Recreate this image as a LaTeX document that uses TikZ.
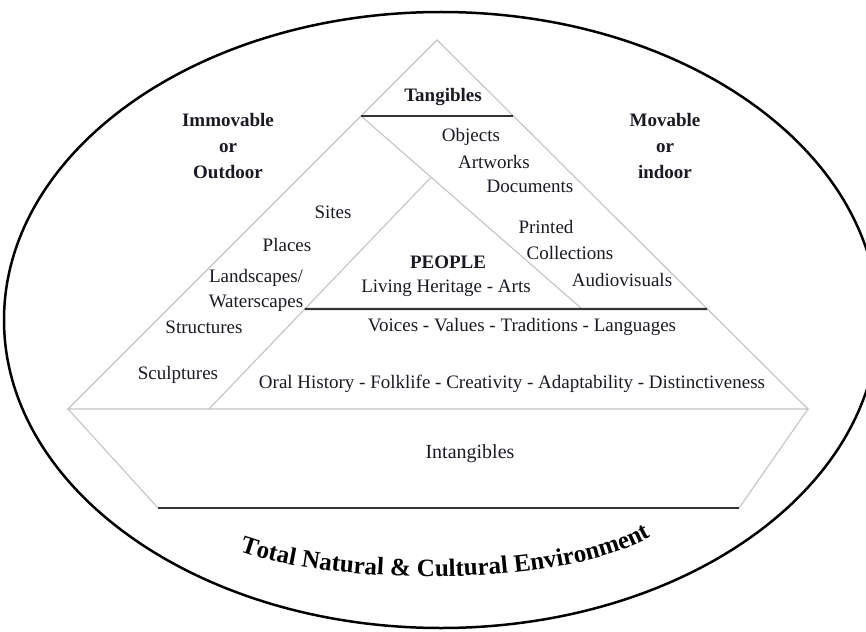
\documentclass[tikz,border=0pt]{standalone}
\usepackage{fontspec}
\setmainfont{Liberation Serif}
\usetikzlibrary{decorations.text,calc}
\definecolor{edgegray}{HTML}{C4C4C4}
\definecolor{thickline}{HTML}{333333}
\definecolor{ink}{HTML}{1A1A24}
\begin{document}
\begin{tikzpicture}[x=1pt,y=-1pt,
  thinedge/.style={draw=edgegray, line width=1.1pt},
  boldedge/.style={draw=thickline, line width=2.2pt},
  lbl/.style={font=\fontsize{19}{24}\selectfont, text=ink, inner sep=0pt, align=center},
  blbl/.style={lbl, font=\fontsize{19}{26}\selectfont\bfseries}]
\useasboundingbox (0,0) rectangle (866,631);
\fill[white] (0,0) rectangle (866,631);
% surrounding ellipse
\draw[line width=2.5pt] (441,320) ellipse [x radius=437, y radius=308];
% pyramid geometry
\coordinate (apex) at (437,40);
\coordinate (bl) at (68,409);
\coordinate (br) at (808,409);
\coordinate (tl) at (361,116);
\coordinate (tr) at (513,116);
\coordinate (d1b) at (582,309);
\coordinate (pa) at ($(tl)!0.317!(d1b)$);
\coordinate (d2b) at (209,409);
\coordinate (ml) at ($(pa)!0.569!(d2b)$);
\coordinate (mr) at (707,309);
\coordinate (zl) at (158,508);
\coordinate (zr) at (739,508);
\draw[thinedge] (bl) -- (apex) -- (br) -- cycle;
\draw[thinedge] (bl) -- (zl);
\draw[thinedge] (br) -- (zr);
\draw[thinedge] (tl) -- (d1b);
\draw[thinedge] (pa) -- (d2b);
\draw[boldedge] (tl) -- (tr);
\draw[boldedge] (ml) -- (mr);
\draw[boldedge] (zl) -- (zr);
% labels
\node[blbl] (tang) at (443,97) {Tangibles};
\node[blbl] (immov) at (228,146) {Immovable\\or\\Outdoor};
\node[blbl] (mov) at (665,146) {Movable\\or\\indoor};
\node[lbl] (obj) at (471,137) {Objects};
\node[lbl] (art) at (494,162) {Artworks};
\node[lbl] (doc) at (530,186) {Documents};
\node[lbl] (prt) at (546,227) {Printed};
\node[lbl] (col) at (570,253) {Collections};
\node[lbl] (aud) at (622,280) {Audiovisuals};
\node[lbl] (sites) at (333,212) {Sites};
\node[lbl] (places) at (287,245) {Places};
\node[lbl, font=\fontsize{19}{25}\selectfont] (land) at (256,290) {Landscapes/\\Waterscapes};
\node[lbl] (struct) at (204,327) {Structures};
\node[lbl] (sculpt) at (178,375) {Sculptures};
\node[blbl] (people) at (448,262) {PEOPLE};
\node[lbl] (living) at (446,288) {Living Heritage - Arts};
\node[lbl] (voices) at (522,327) {Voices - Values - Traditions - Languages};
\node[lbl] (oral) at (512,384) {Oral History - Folklife - Creativity - Adaptability - Distinctiveness};
\node[lbl, font=\fontsize{20}{24}\selectfont] (intang) at (470,454) {Intangibles};
% curved caption
\coordinate (cs) at (234,549);
\coordinate (ce) at (656,534);
\path[decorate, decoration={text along path, text align=center,
  text={|\fontsize{25}{25}\selectfont\bfseries|Total Natural {\&} Cultural Environment}}]
  (cs) .. controls (325,586) and (565,590) .. (ce);
\end{tikzpicture}
\end{document}
